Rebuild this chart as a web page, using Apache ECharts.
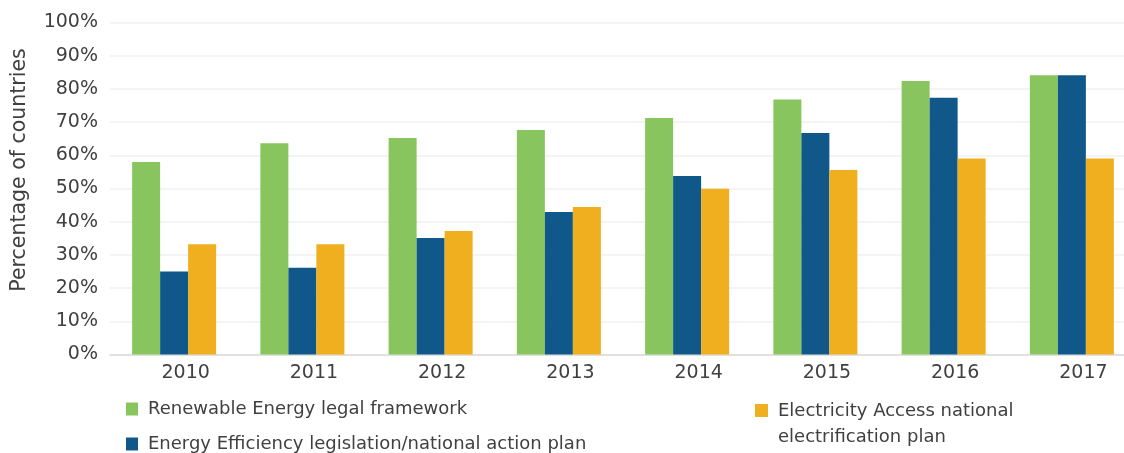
<!DOCTYPE html>
<html>
<head>
<meta charset="utf-8">
<script src="https://cdn.jsdelivr.net/npm/echarts@6/dist/echarts.min.js"></script>
<style>
html,body{margin:0;padding:0;background:#fff;}
#chart{width:1124px;height:453px;}
</style>
</head>
<body>
<div id="chart"></div>
<script>
const years = ['2010','2011','2012','2013','2014','2015','2016','2017'];
const renewable = [58, 63.6, 65.2, 67.6, 71.2, 76.8, 82.4, 84.1];
const efficiency = [25, 26.1, 35.1, 42.9, 53.8, 66.7, 77.3, 84.1];
const access = [33.2, 33.2, 37.2, 44.4, 49.9, 55.6, 59.0, 59.0];
const seriesNames = ['Renewable Energy legal framework', 'Energy Efficiency legislation/national action plan', 'Electricity Access national\nelectrification plan'];
const yTicks = [0, 10, 20, 30, 40, 50, 60, 70, 80, 90, 100];

const colors = ['#89C55E', '#0F5889', '#EFAF1E'];
const font = 'DejaVu Sans';
const textColor = '#404040';

const chart = echarts.init(document.getElementById('chart'), null, {renderer: 'canvas'});
const barStyle = {barWidth: 28, barGap: '0%'};
const legendText = {color: textColor, fontFamily: font, fontSize: 18, padding: [0, 0, 0, 5]};
chart.setOption({
  animation: false,
  color: colors,
  grid: {left: 110, top: 22.5, width: 1026, height: 332, outerBoundsMode: 'none', containLabel: false},
  xAxis: {
    type: 'category',
    data: years,
    axisLine: {lineStyle: {color: '#d9d9d9', width: 1.5}},
    axisTick: {show: false},
    axisLabel: {color: textColor, fontFamily: font, fontSize: 19, margin: 9, padding: [0, 0, 0, 23]}
  },
  yAxis: {
    type: 'value',
    min: yTicks[0], max: yTicks[yTicks.length - 1], interval: 10,
    axisLine: {show: false},
    axisTick: {show: false},
    splitLine: {lineStyle: {color: '#f0f0f0', width: 1.5}},
    axisLabel: {color: textColor, fontFamily: font, fontSize: 19, margin: 12, formatter: '{value}%'}
  },
  legend: [
    {data: [seriesNames[0]], left: 126, top: 400, padding: 0, itemWidth: 12, itemHeight: 13, icon: 'rect',
     textStyle: legendText},
    {data: [seriesNames[1]], left: 126, top: 435, padding: 0, itemWidth: 12, itemHeight: 13, icon: 'rect',
     textStyle: legendText},
    {data: [seriesNames[2]], left: 755, top: 398, padding: 0, itemWidth: 13, itemHeight: 40,
     icon: 'path://M0,0L13,0L13,13L0,13Z M0,40L0.001,40Z',
     textStyle: Object.assign({lineHeight: 26}, legendText)}
  ],
  graphic: [{
    type: 'text',
    x: 20, y: 170, rotation: Math.PI / 2,
    style: {text: 'Percentage of countries', fill: textColor, font: '20.5px "DejaVu Sans"', textAlign: 'center', textVerticalAlign: 'middle'}
  }],
  series: [
    Object.assign({name: seriesNames[0], type: 'bar', data: renewable}, barStyle),
    Object.assign({name: seriesNames[1], type: 'bar', data: efficiency}, barStyle),
    Object.assign({name: seriesNames[2], type: 'bar', data: access}, barStyle)
  ]
});
</script>
</body>
</html>
